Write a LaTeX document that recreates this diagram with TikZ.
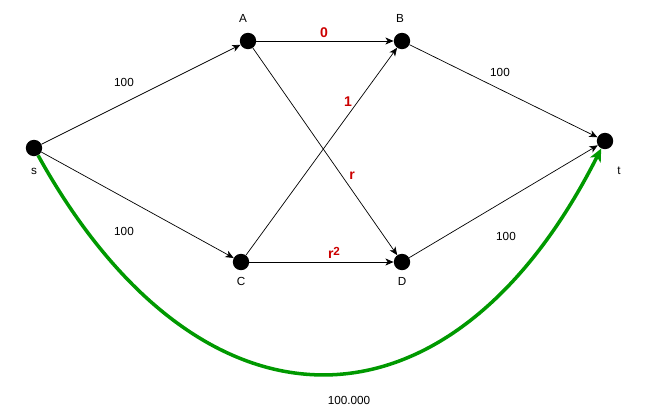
\documentclass[tikz,border=0pt]{standalone}
\usepackage{fontspec}
\setmainfont{Liberation Sans}
\usetikzlibrary{arrows.meta}
\definecolor{flowred}{HTML}{CC0000}
\definecolor{flowgreen}{HTML}{009900}
\tikzset{
  dot/.style={circle, fill=black, inner sep=0pt, minimum size=14},
  tag/.style={font=\fontsize{10}{12}\selectfont},
  cost/.style={font=\fontsize{12}{14}\selectfont\bfseries, text=flowred},
  edge/.style={-{Stealth[length=7pt,width=6pt,inset=2pt]}, line width=0.6pt},
}
\begin{document}
\begin{tikzpicture}[x=0.03cm, y=-0.03cm]
  \useasboundingbox (0,0) rectangle (662,417);
  % vertices
  \node[dot] (s) at (34,148) {};
\node[dot] (A) at (248,41) {};
\node[dot] (B) at (402,41) {};
\node[dot] (C) at (241,262) {};
\node[dot] (D) at (402,262) {};
\node[dot] (t) at (605,141) {};
  % vertex names
  \node[tag] (ls) at (34,171) {s};
  \node[tag] (lA) at (243,18) {A};
  \node[tag] (lB) at (400,18) {B};
  \node[tag] (lC) at (241,281) {C};
  \node[tag] (lD) at (402,281) {D};
  \node[tag] (lt) at (619,171) {t};
  % edges
  \draw[edge] (s) -- (A);
\draw[edge] (s) -- (C);
\draw[edge] (A) -- (B);
\draw[edge] (A) -- (D);
\draw[edge] (C) -- (B);
\draw[edge] (C) -- (D);
\draw[edge] (B) -- (t);
\draw[edge] (D) -- (t);
  % long way round
  \draw[flowgreen, line width=3pt, -{Stealth[length=11pt,width=10pt,inset=3pt]}]
    (s) .. controls (200,448) and (450,448) .. (t);
  % capacities
  \node[tag] (csA) at (124,82) {100};
  \node[tag] (csC) at (124,231) {100};
  \node[tag] (cBt) at (500,72) {100};
  \node[tag] (cDt) at (506,236) {100};
  \node[tag] (cst) at (349,400) {100.000};
  \node[cost] (cAB) at (324,33) {0};
  \node[cost] (cCB) at (348,102) {1};
  \node[cost] (cAD) at (352,176) {r};
  \node[cost] (cCD) at (334,253) {r\raisebox{0.5ex}{\fontsize{10}{12}\selectfont\bfseries 2}};
\end{tikzpicture}
\end{document}
